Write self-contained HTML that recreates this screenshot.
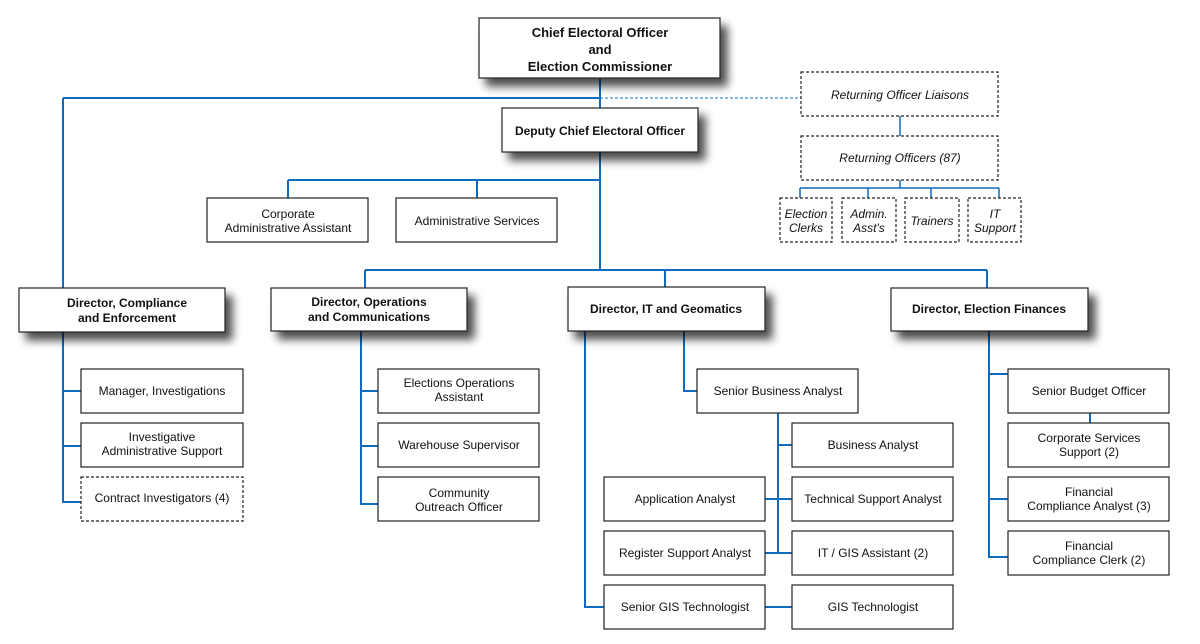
<!DOCTYPE html>
<html><head><meta charset="utf-8"><style>
html,body{margin:0;padding:0;background:#fff}
svg{display:block}
text{font-family:"Liberation Sans",Arial,sans-serif;font-size:12px;fill:#111;text-anchor:middle}
.b{font-weight:bold}
.i{font-style:italic}
.ln{stroke:#0f6cbd;stroke-width:2;fill:none}
.bx{fill:#fff;stroke:#222;stroke-width:1.2}
.d{fill:#fff;stroke:#222;stroke-width:1.2;stroke-dasharray:3,2}
</style></head><body>
<svg width="1200" height="644" viewBox="0 0 1200 644" xmlns="http://www.w3.org/2000/svg">
<defs><filter id="sh" x="-20%" y="-30%" width="150%" height="200%"><feGaussianBlur in="SourceAlpha" stdDeviation="4.5"/><feOffset dx="7" dy="8"/><feComponentTransfer><feFuncA type="linear" slope="0.7"/></feComponentTransfer><feMerge><feMergeNode/><feMergeNode in="SourceGraphic"/></feMerge></filter></defs>

<path class="ln" d="M600 78V270M63 98H600M63 98V288M288 180H600M288 180V198M477 180V198M365 270H987M365 270V288M665 270V287M987 270V288"/>
<path d="M600 98H801" stroke="#0f6cbd" stroke-width="1" stroke-dasharray="3,2"/>
<path class="ln" style="stroke-width:1.5" d="M900 116V136M900 180V188M800 188H999M800 188V198M868 188V198M931 188V198M999 188V198"/>
<path class="ln" d="M63 332V502H81M63 391H81M63 446H81"/>
<path class="ln" d="M361 331V504H378M361 391H378M361 446H378"/>
<path class="ln" d="M585 331V607H604M684 331V391H697M778 413V553M778 445H792M765 499H792M765 553H792M765 607H792"/>
<path class="ln" d="M989 331V557H1008M989 374H1008M989 499H1008M1090 413V423"/>

<g filter="url(#sh)">
<rect class="bx" x="479" y="18" width="241" height="60"/>
<rect class="bx" x="502" y="108" width="196" height="44"/>
<rect class="bx" x="19" y="288" width="206" height="44"/>
<rect class="bx" x="271" y="288" width="196" height="43"/>
<rect class="bx" x="568" y="287" width="197" height="44"/>
<rect class="bx" x="891" y="288" width="197" height="43"/>
</g>
<text class="b" x="600" y="37" style="font-size:13px">Chief Electoral Officer</text>
<text class="b" x="600" y="54" style="font-size:13px">and</text>
<text class="b" x="600" y="71" style="font-size:13px">Election Commissioner</text>
<text class="b" x="600" y="135">Deputy Chief Electoral Officer</text>
<text class="b" x="127" y="307">Director, Compliance</text>
<text class="b" x="127" y="322">and Enforcement</text>
<text class="b" x="369" y="306">Director, Operations</text>
<text class="b" x="369" y="321">and Communications</text>
<text class="b" x="666" y="313">Director, IT and Geomatics</text>
<text class="b" x="989" y="313">Director, Election Finances</text>

<rect class="d" x="801" y="72" width="197" height="44"/>
<text class="i" x="900" y="99">Returning Officer Liaisons</text>
<rect class="d" x="801" y="136" width="197" height="44"/>
<text class="i" x="900" y="162">Returning Officers (87)</text>
<rect class="d" x="780" y="198" width="52" height="44"/>
<text class="i" x="806" y="218">Election</text><text class="i" x="806" y="232">Clerks</text>
<rect class="d" x="842" y="198" width="54" height="44"/>
<text class="i" x="869" y="218">Admin.</text><text class="i" x="869" y="232">Asst's</text>
<rect class="d" x="905" y="198" width="54" height="44"/>
<text class="i" x="932" y="225">Trainers</text>
<rect class="d" x="968" y="198" width="53" height="44"/>
<text class="i" x="995" y="218">IT</text><text class="i" x="995" y="232">Support</text>

<rect class="bx" x="207" y="198" width="161" height="44"/>
<text x="288" y="218">Corporate</text><text x="288" y="232">Administrative Assistant</text>
<rect class="bx" x="396" y="198" width="161" height="44"/>
<text x="477" y="225">Administrative Services</text>

<rect class="bx" x="81" y="369" width="162" height="44"/>
<text x="162" y="395">Manager, Investigations</text>
<rect class="bx" x="81" y="423" width="162" height="44"/>
<text x="162" y="441">Investigative</text><text x="162" y="455">Administrative Support</text>
<rect class="d" x="81" y="477" width="162" height="44"/>
<text x="162" y="502">Contract Investigators (4)</text>

<rect class="bx" x="378" y="369" width="161" height="44"/>
<text x="459" y="387">Elections Operations</text><text x="459" y="401">Assistant</text>
<rect class="bx" x="378" y="423" width="161" height="44"/>
<text x="459" y="449">Warehouse Supervisor</text>
<rect class="bx" x="378" y="477" width="161" height="44"/>
<text x="459" y="497">Community</text><text x="459" y="511">Outreach Officer</text>

<rect class="bx" x="697" y="369" width="161" height="44"/>
<text x="778" y="395">Senior Business Analyst</text>
<rect class="bx" x="792" y="423" width="161" height="44"/>
<text x="873" y="449">Business Analyst</text>
<rect class="bx" x="792" y="477" width="161" height="44"/>
<text x="873" y="503">Technical Support Analyst</text>
<rect class="bx" x="792" y="531" width="161" height="44"/>
<text x="873" y="557">IT / GIS Assistant (2)</text>
<rect class="bx" x="792" y="585" width="161" height="44"/>
<text x="873" y="611">GIS Technologist</text>
<rect class="bx" x="604" y="477" width="161" height="44"/>
<text x="685" y="503">Application Analyst</text>
<rect class="bx" x="604" y="531" width="161" height="44"/>
<text x="685" y="557">Register Support Analyst</text>
<rect class="bx" x="604" y="585" width="161" height="44"/>
<text x="685" y="611">Senior GIS Technologist</text>

<rect class="bx" x="1008" y="369" width="161" height="44"/>
<text x="1089" y="395">Senior Budget Officer</text>
<rect class="bx" x="1008" y="423" width="161" height="44"/>
<text x="1089" y="442">Corporate Services</text><text x="1089" y="456">Support (2)</text>
<rect class="bx" x="1008" y="477" width="161" height="44"/>
<text x="1089" y="496">Financial</text><text x="1089" y="510">Compliance Analyst (3)</text>
<rect class="bx" x="1008" y="531" width="161" height="44"/>
<text x="1089" y="550">Financial</text><text x="1089" y="564">Compliance Clerk (2)</text>
</svg>
</body></html>
